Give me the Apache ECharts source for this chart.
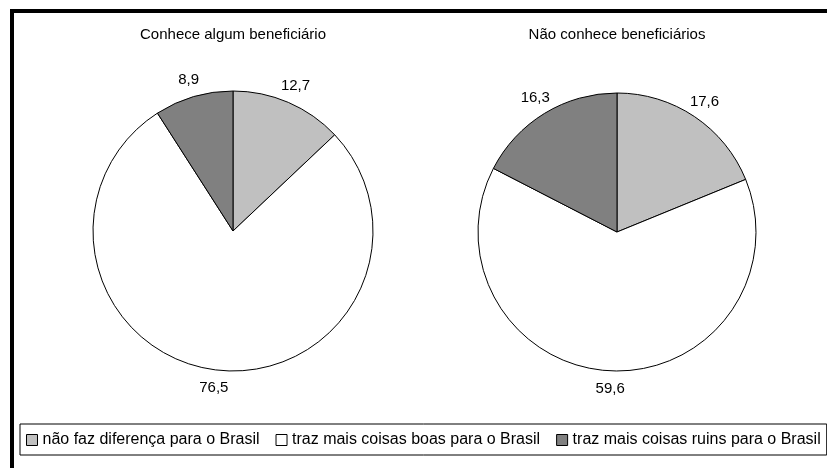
<!DOCTYPE html>
<html>
<head>
<meta charset="utf-8">
<script src="https://cdn.jsdelivr.net/npm/echarts@6/dist/echarts.min.js"></script>
<style>
  html, body { margin: 0; padding: 0; background: #fff; }
  #chart { width: 827px; height: 468px; }
</style>
</head>
<body>
<div id="chart"></div>
<script>
// categorias (legenda)
const categories = [
  'não faz diferença para o Brasil',
  'traz mais coisas boas para o Brasil',
  'traz mais coisas ruins para o Brasil'
];
// títulos das duas pizzas
const pieTitles = ['Conhece algum beneficiário', 'Não conhece beneficiários'];
// valores
const conheceValues = [12.7, 76.5, 8.9];
const naoConheceValues = [17.6, 59.6, 16.3];
// cinza claro, branco, cinza escuro
const sliceColors = ['#c0c0c0', '#ffffff', '#808080'];

const fontFamily = 'Liberation Sans, Arial, sans-serif';

function toData(values) {
  return values.map((v, i) => ({
    name: categories[i],
    value: v,
    itemStyle: { color: sliceColors[i] }
  }));
}

// rótulo centrado no ponto radial (como o Excel faz)
function centerLabel(params) {
  const pts = params.labelLinePoints;
  if (!pts) return {};
  return { x: pts[1][0], y: pts[1][1], align: 'center', verticalAlign: 'middle' };
}

function makePie(values, center, radius) {
  return {
    type: 'pie',
    center: center,
    radius: radius,
    startAngle: 90,
    clockwise: true,
    avoidLabelOverlap: false,
    silent: true,
    data: toData(values),
    itemStyle: { borderColor: '#000', borderWidth: 1 },
    label: {
      show: true,
      position: 'outside',
      color: '#000',
      fontSize: 15,
      fontFamily: fontFamily,
      formatter: p => p.value.toFixed(1).replace('.', ',')
    },
    labelLine: { show: true, length: 18, length2: 0, lineStyle: { width: 0, opacity: 0 } },
    labelLayout: centerLabel,
    emphasis: { disabled: true }
  };
}

const chart = echarts.init(document.getElementById('chart'));
const option = {
  animation: false,
  backgroundColor: '#fff',
  graphic: [
    // moldura preta (esquerda e topo)
    { type: 'rect', shape: { x: 10, y: 9, width: 817, height: 4 }, style: { fill: '#000' } },
    { type: 'rect', shape: { x: 10, y: 9, width: 4, height: 459 }, style: { fill: '#000' } },
    {
      type: 'text', x: 233, y: 35,
      style: { text: pieTitles[0], fill: '#000', font: '15px ' + fontFamily, align: 'center', verticalAlign: 'middle' }
    },
    {
      type: 'text', x: 617, y: 35,
      style: { text: pieTitles[1], fill: '#000', font: '15px ' + fontFamily, align: 'center', verticalAlign: 'middle' }
    }
  ],
  legend: {
    data: categories,
    left: 20,
    top: 424,
    orient: 'horizontal',
    icon: 'rect',
    itemWidth: 11,
    itemHeight: 11,
    itemGap: 16,
    padding: [8, 6, 7, 6],
    borderColor: '#000',
    borderWidth: 1,
    selectedMode: false,
    itemStyle: { borderColor: '#000', borderWidth: 1 },
    textStyle: { color: '#000', fontSize: 16, fontFamily: fontFamily }
  },
  series: [
    makePie(conheceValues, [233, 231], 140),
    makePie(naoConheceValues, [617, 232], 139)
  ]
};
chart.setOption(option);
</script>
</body>
</html>
